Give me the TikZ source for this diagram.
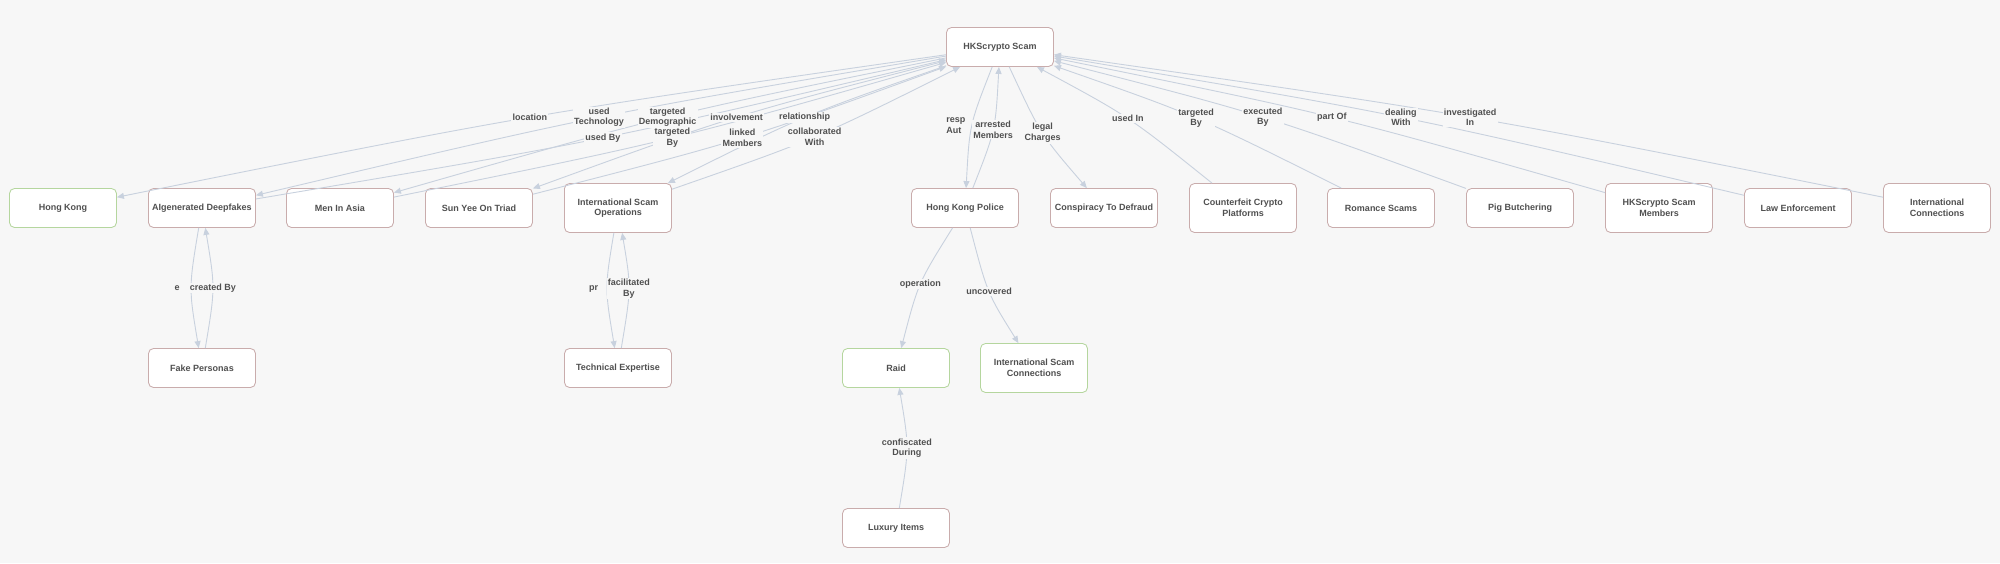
\documentclass[tikz,border=0pt]{standalone}
\usepackage{fontspec}
\setmainfont{Liberation Sans}
\usetikzlibrary{arrows.meta,calc}
\definecolor{bg}{HTML}{F7F7F7}
\definecolor{pinkb}{HTML}{C9ACAC}
\definecolor{greenb}{HTML}{B5D69E}
\definecolor{edgec}{HTML}{C8D1DE}
\definecolor{txt}{HTML}{505050}
\tikzset{
  nd/.style={draw=pinkb, fill=white, rounded corners=5pt, line width=0.85pt,
    minimum width=107pt, minimum height=39pt, inner sep=0pt, align=center,
    text=txt, font=\fontsize{9pt}{10.5pt}\selectfont\bfseries},
  tall/.style={minimum height=49pt},
  grn/.style={draw=greenb},
  edge/.style={draw=edgec, line width=0.9pt, -{Triangle[length=7pt,width=6pt]}},
  lbl/.style={fill=bg, inner sep=1.2pt, align=center, text=txt,
    font=\fontsize{9pt}{10.5pt}\selectfont\bfseries},
  nop/.style={},
  ofsA/.style={align=left,xshift=-16pt},
  ofsB/.style={xshift=-14pt},
  ofsC/.style={xshift=-13.5pt},
  cv/.style={to path={.. controls ($(\tikztostart)!0.5!(\tikztotarget)!13.3pt!-90:(\tikztotarget)$) .. (\tikztotarget) \tikztonodes}}
}
\begin{document}
\begin{tikzpicture}[x=1pt,y=1pt]
\fill[bg] (0,0) rectangle (2000,-563);
\useasboundingbox (0,0) rectangle (2000,-563);
% nodes
\node[nd] (S) at (1000,-47) {HKScrypto Scam};
\node[nd,grn] (HK) at (63,-208) {Hong Kong};
\node[nd] (AI) at (202,-208) {AIgenerated Deepfakes};
\node[nd] (MA) at (340,-208) {Men In Asia};
\node[nd] (SY) at (479,-208) {Sun Yee On Triad};
\node[nd,tall] (ISO) at (618,-208) {International Scam\\Operations};
\node[nd] (HKP) at (965,-208) {Hong Kong Police};
\node[nd] (CTD) at (1104,-208) {Conspiracy To Defraud};
\node[nd,tall] (CCP) at (1243,-208) {Counterfeit Crypto\\Platforms};
\node[nd] (RS) at (1381,-208) {Romance Scams};
\node[nd] (PB) at (1520,-208) {Pig Butchering};
\node[nd,tall] (MEM) at (1659,-208) {HKScrypto Scam\\Members};
\node[nd] (LE) at (1798,-208) {Law Enforcement};
\node[nd,tall] (IC) at (1937,-208) {International\\Connections};
\node[nd] (FP) at (202,-368) {Fake Personas};
\node[nd] (TE) at (618,-368) {Technical Expertise};
\node[nd,grn] (RAID) at (896,-368) {Raid};
\node[nd,grn,tall] (ISC) at (1034,-368) {International Scam\\Connections};
\node[nd] (LUX) at (896,-528) {Luxury Items};
\def\edgelist{S/HK/{location}/nop,
  S/AI/{used\\Technology}/nop,
  AI/S/{used By}/nop,
  S/MA/{targeted\\Demographic}/nop,
  MA/S/{targeted\\By}/nop,
  S/SY/{involvement}/nop,
  SY/S/{linked\\Members}/nop,
  S/ISO/{relationship}/nop,
  ISO/S/{collaborated\\With}/nop,
  S/HKP/{resp\\Aut}/ofsA,
  HKP/S/{arrested\\Members}/nop,
  S/CTD/{legal\\Charges}/nop,
  CCP/S/{used In}/nop,
  RS/S/{targeted\\By}/nop,
  PB/S/{executed\\By}/nop,
  MEM/S/{part Of}/nop,
  LE/S/{dealing\\With}/nop,
  IC/S/{investigated\\In}/nop,
  AI/FP/{e}/ofsB,
  FP/AI/{created By}/nop,
  ISO/TE/{pr}/ofsC,
  TE/ISO/{facilitated\\By}/nop,
  HKP/RAID/{operation}/nop,
  HKP/ISC/{uncovered}/nop,
  LUX/RAID/{confiscated\\During}/nop}
% connectors
\foreach \a/\b/\t/\o in \edgelist {
  \draw[edge] (\a) to[cv] (\b);
}
% labels
\foreach \a/\b/\t/\o in \edgelist {
  \path (\a) to[cv] node[lbl,\o] {\t} (\b);
}
\end{tikzpicture}
\end{document}
